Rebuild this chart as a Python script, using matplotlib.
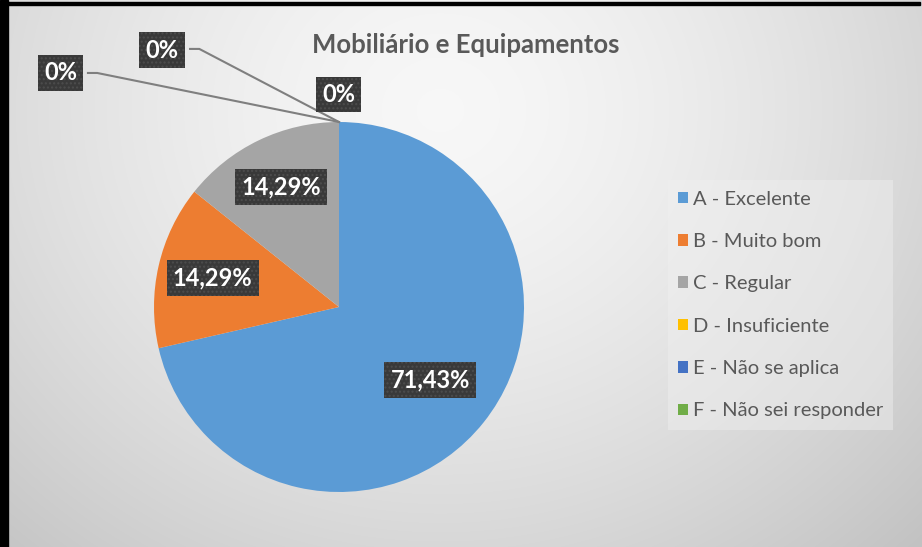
import matplotlib.pyplot as plt
import numpy as np
from matplotlib.patches import Rectangle

plt.rcParams['font.family'] = ['Lato', 'DejaVu Sans']

categories = ['A - Excelente', 'B - Muito bom', 'C - Regular',
              'D - Insuficiente', 'E - Não se aplica', 'F - Não sei responder']
values = [71.43, 14.29, 14.29, 0, 0, 0]
value_labels = ['71,43%', '14,29%', '14,29%', '0%', '0%', '0%']
colors = ['#5B9BD5', '#ED7D31', '#A5A5A5', '#FFC000', '#4472C4', '#70AD47']

W, H = 922, 547
fig = plt.figure(figsize=(W / 100, H / 100), dpi=100, facecolor='#d4d4d4')

# one axes over the whole figure, one data unit = one pixel
ax = fig.add_axes([0, 0, 1, 1])

# radial gray background
yy, xx = np.mgrid[0:H, 0:W]
d = np.sqrt(((xx - 440) / 520.0) ** 2 + ((yy - 110) / 470.0) ** 2)
shade = np.clip(0.97 - 0.14 * np.clip(d, 0, 1.3) ** 1.5, 0, 1)
rgb = np.dstack([shade, shade, shade])
ax.imshow(rgb, extent=[0, W, 0, H], origin='upper', aspect='auto',
          interpolation='nearest', zorder=0)

cx, cy, r = 339, H - 307, 185
wedges, _ = ax.pie(values, colors=colors, startangle=90, counterclock=False,
                   center=(cx, cy), radius=r, frame=True,
                   wedgeprops=dict(linewidth=0, zorder=1))
ax.set_xlim(0, W)
ax.set_ylim(0, H)
ax.set_aspect('auto')
ax.axis('off')

# frame lines on the left and top
ax.add_patch(Rectangle((0, 0), 8, H, color='black', zorder=6))
ax.add_patch(Rectangle((0, H - 5), 920, 3, color='black', zorder=6))

ax.text(466, H - 45, 'Mobiliário e Equipamentos', ha='center', va='center',
        fontsize=18.5, fontweight='bold', color='#595959', zorder=5)

label_r = [0.63, 0.70, 0.72]
zero_pos = [(-0.003, 1.149), (-0.957, 1.389), (-1.505, 1.265)]
zero_line = [None, (-0.805, 1.395), (-1.357, 1.265)]


def put_label(x, y, s):
    ax.text(x, y, s, ha='center', va='center', fontsize=17, fontweight='bold',
            color='white', zorder=5,
            bbox=dict(boxstyle='square,pad=0.27', fc='#393939', ec='#4d4d4d',
                      lw=0, hatch='....'))


zi = 0
nz = 0
for w, v, s in zip(wedges, values, value_labels):
    if v > 0:
        ang = np.deg2rad((w.theta1 + w.theta2) / 2)
        put_label(cx + label_r[nz] * r * np.cos(ang), cy + label_r[nz] * r * np.sin(ang), s)
        nz += 1
    else:
        lx, ly = zero_pos[zi]
        if zero_line[zi] is not None:
            ex, ey = zero_line[zi]
            ang = np.deg2rad(w.theta1)
            ax.plot([cx + ex * r, cx + (ex + 0.05) * r, cx + r * np.cos(ang)],
                    [cy + ey * r, cy + ey * r, cy + r * np.sin(ang)],
                    color='#7f7f7f', lw=1.5, zorder=4)
        put_label(cx + lx * r, cy + ly * r, s)
        zi += 1

leg = ax.legend(wedges, categories, loc='center left',
                bbox_to_anchor=(668, H - 305), bbox_transform=ax.transData,
                fontsize=14.5, frameon=True, fancybox=False, edgecolor='none',
                facecolor='#f0f0f0', framealpha=0.45, handlelength=0.5,
                handleheight=0.5, handletextpad=0.25, labelspacing=1.26,
                borderpad=0.5, borderaxespad=0)
for t in leg.get_texts():
    t.set_color('#595959')

fig.savefig('out.png', dpi=100, facecolor=fig.get_facecolor())
